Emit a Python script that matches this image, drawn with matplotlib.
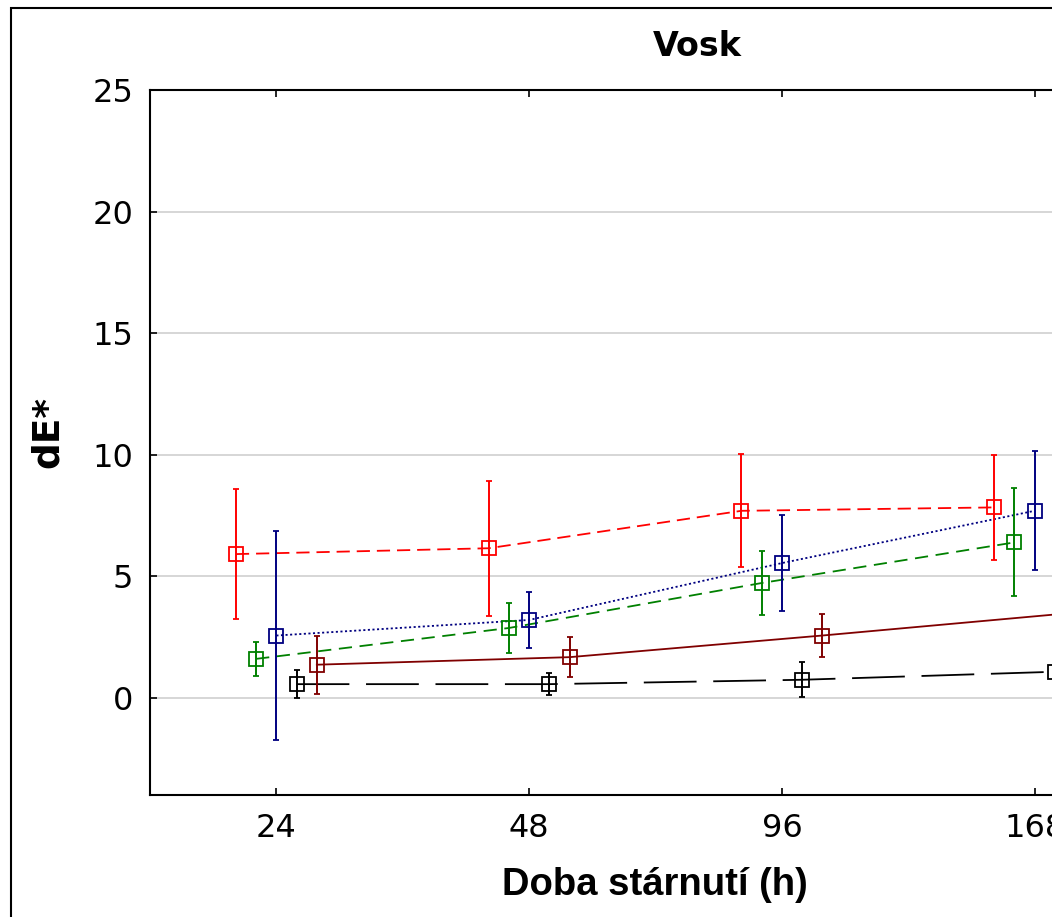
import matplotlib
matplotlib.use("Agg")
import matplotlib.pyplot as plt
from matplotlib.patches import Rectangle
import numpy as np

plt.rcParams['font.family'] = ['DejaVu Sans']
plt.rcParams['lines.scale_dashes'] = False

hours = ['24', '48', '96', '168']

red_mean = [5.91, 6.15, 7.69, 7.83]
red_err = [2.67, 2.78, 2.33, 2.15]
green_mean = [1.60, 2.87, 4.72, 6.39]
green_err = [0.70, 1.04, 1.30, 2.22]
blue_mean = [2.56, 3.20, 5.54, 7.69]
blue_err = [4.30, 1.17, 1.98, 2.45]
black_mean = [0.56, 0.56, 0.74, 1.07]
black_err = [0.57, 0.46, 0.72, 0.50]
darkred_mean = [1.36, 1.67, 2.56, 3.50]
darkred_err = [1.20, 0.83, 0.89, 1.00]

W, H = 1052, 917
fig = plt.figure(figsize=(W / 100, H / 100), dpi=100)
ax = fig.add_axes([150 / W, 1 - 795 / H, (1161 - 150) / W, (795 - 90) / H])

x = np.arange(len(hours))
step = 0.08
series = [
    (red_mean, red_err, '#ff0000', -2, (0, (9.5, 5))),
    (green_mean, green_err, '#008000', -1, (0, (9.5, 5.5))),
    (blue_mean, blue_err, '#000080', 0, (0, (1.5, 1.8))),
    (black_mean, black_err, '#000000', 1, (0, (38, 12))),
    (darkred_mean, darkred_err, '#800000', 2, '-'),
]
for mean, err, col, off, ls in series:
    xs = x + off * step
    ax.plot(xs, mean, color=col, linestyle=ls, lw=1.3, zorder=3)
    ax.errorbar(xs, mean, yerr=err, fmt='s', color=col, mfc='none', mec=col,
                ms=10, mew=1.3, elinewidth=1.4, capsize=2.5, capthick=1.4, zorder=4)

ax.set_xlim(-0.5, 3.5)
ax.set_ylim(-4, 25)
ax.set_yticks([0, 5, 10, 15, 20, 25])
ax.set_xticks(x)
ax.set_xticklabels(hours)
ax.yaxis.grid(True, color='#d3d3d3', lw=1.3, zorder=0)
ax.set_axisbelow(True)
ax.tick_params(direction='in', length=5, width=1.2, labelsize=23,
               top=True, right=True)
ax.tick_params(axis='x', pad=13)
ax.tick_params(axis='y', pad=12)
for s in ax.spines.values():
    s.set_linewidth(1.5)

fig.text(697 / W, 1 - 47 / H, 'Vosk', ha='center', va='center',
         fontsize=24, fontweight='bold')
fig.text(655 / W, 1 - 885 / H, 'Doba stárnutí (h)', ha='center', va='center',
         fontsize=27.5, fontweight='bold', family='Liberation Sans')
fig.text(48 / W, 1 - 432 / H, 'dE*', ha='center', va='center', rotation=90,
         fontsize=27, fontweight='bold')

fig.patches.append(Rectangle((11 / W, -0.1), 1.2, 1 - 8 / H + 0.1,
                             transform=fig.transFigure, fill=False,
                             edgecolor='black', lw=1.5))

fig.savefig('out.png', dpi=100)
